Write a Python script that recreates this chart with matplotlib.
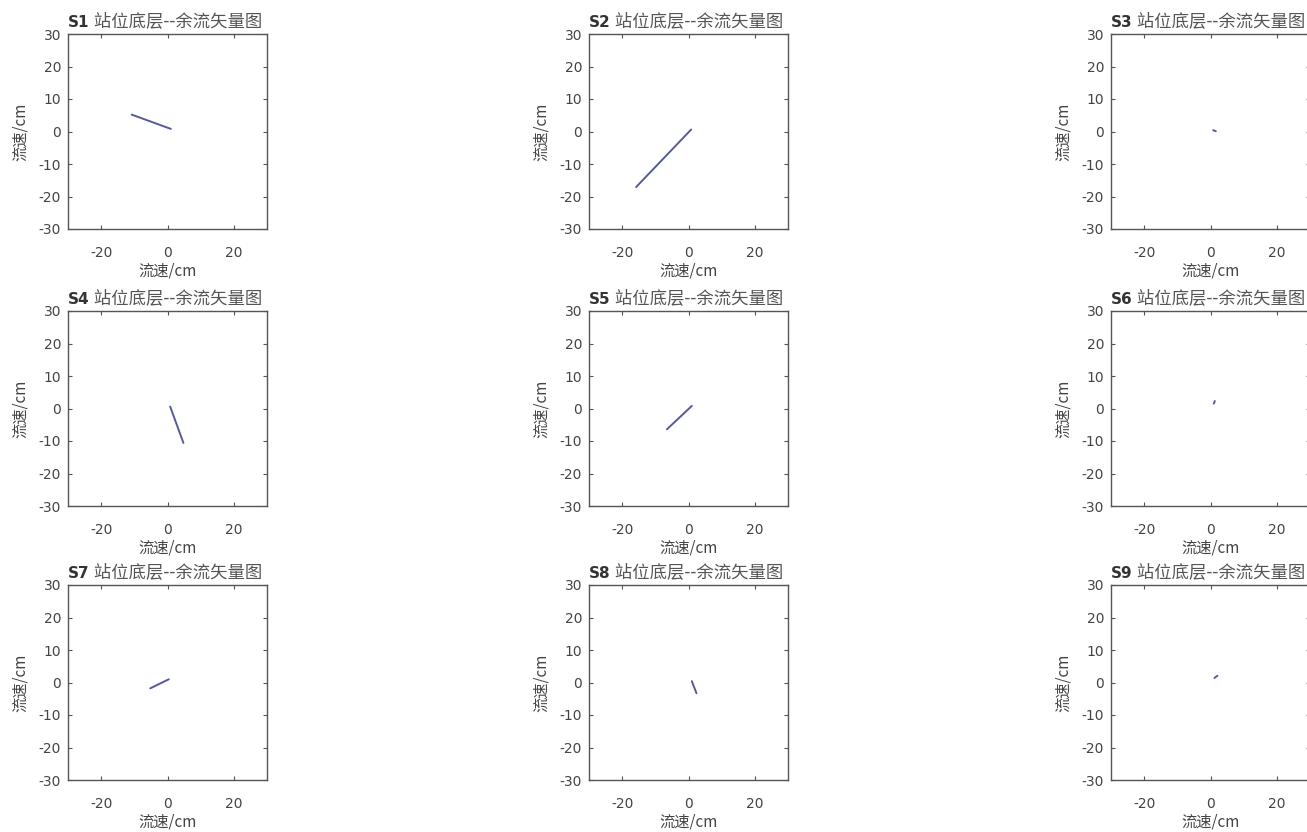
import matplotlib
matplotlib.use("Agg")
import matplotlib.pyplot as plt

plt.rcParams['font.family'] = ['DejaVu Sans', 'Noto Sans CJK SC']
plt.rcParams['axes.unicode_minus'] = False

# Stations and residual current vectors (start point + components, cm)
stations = ["S1", "S2", "S3", "S4", "S5", "S6", "S7", "S8", "S9"]
x0 = [1.0, 0.8, 0.8, 0.8, 1.0, 1.0, 0.4, 1.0, 1.2]
y0 = [0.8, 0.6, 0.4, 0.6, 0.8, 1.5, 1.0, 0.4, 1.4]
u = [-11.8, -16.6, 0.8, 4.0, -7.5, 0.3, -5.6, 1.4, 0.9]
v = [4.4, -17.7, -0.3, -11.2, -7.2, 0.8, -2.8, -3.7, 0.7]

title_suffix = "站位底层--余流矢量图"
axis_label = "流速/cm"
xticks = [-20, 0, 20]
yticks = [-30, -20, -10, 0, 10, 20, 30]
lim = (-30, 30)

W, H = 1307, 832
fig = plt.figure(figsize=(W / 100, H / 100), dpi=100)
fig.patch.set_facecolor("white")

col_left = [68, 589, 1111]
row_top = [34, 311, 585]
box_w, box_h = 199, 195

cjk = ['Noto Sans CJK SC', 'DejaVu Sans']
txt_col = "#444444"
line_col = "#555a9c"

for i, name in enumerate(stations):
    r, c = divmod(i, 3)
    ax = fig.add_axes([col_left[c] / W, 1 - (row_top[r] + box_h) / H,
                       box_w / W, box_h / H])
    ax.plot([x0[i], x0[i] + u[i]], [y0[i], y0[i] + v[i]],
            color=line_col, lw=1.4, solid_capstyle="round")
    ax.set_xlim(*lim)
    ax.set_ylim(*lim)
    ax.set_xticks(xticks)
    ax.set_yticks(yticks)
    ax.tick_params(direction="in", top=True, right=True, length=3,
                   width=0.8, color="#555555", labelsize=10,
                   labelcolor=txt_col)
    ax.tick_params(axis="x", pad=12)
    ax.tick_params(axis="y", pad=5)
    for sp in ax.spines.values():
        sp.set_color("#555555")
        sp.set_linewidth(1.0)
    ax.set_xlabel(axis_label, family=cjk, fontsize=11, color=txt_col,
                  labelpad=2)
    ax.set_ylabel(axis_label, family=cjk, fontsize=11, color=txt_col,
                  labelpad=7)

    # Title: bold station name followed by the description
    t1 = ax.text(0.0, 1.02, name, transform=ax.transAxes, fontsize=11,
                 fontweight="bold", color="#333333", ha="left", va="bottom")
    ax.annotate(" " + title_suffix, xy=(1, 0), xycoords=t1, ha="left",
                va="bottom", fontsize=12.5, family=cjk, color="#555555")

fig.savefig("out.png", dpi=100, facecolor="white")
